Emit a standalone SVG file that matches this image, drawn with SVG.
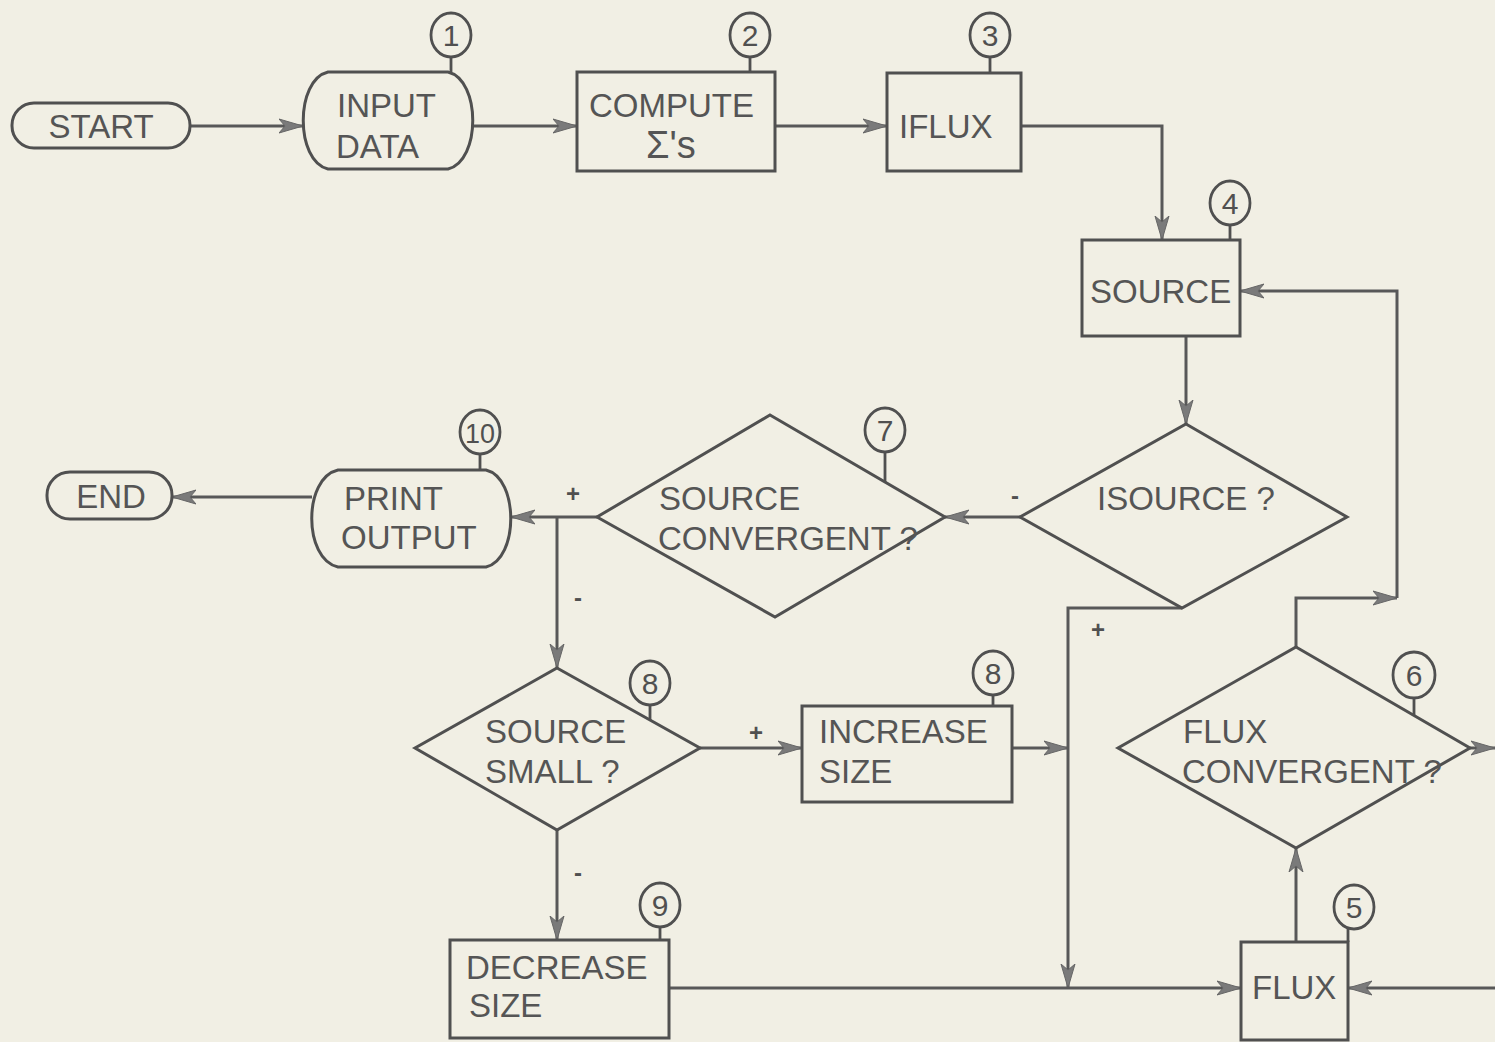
<svg xmlns="http://www.w3.org/2000/svg" width="1495" height="1042" viewBox="0 0 1495 1042">
<defs>
<style>
.shape{fill:none;stroke:#505050;stroke-width:3}
.conn{fill:none;stroke:#585858;stroke-width:3}
.t{font-family:"Liberation Sans",Arial,sans-serif;font-size:33px;fill:#555}
.n{font-family:"Liberation Sans",Arial,sans-serif;font-size:30px;fill:#505050;text-anchor:middle}
.lbl{font-family:"Liberation Sans",Arial,sans-serif;font-size:24px;font-weight:bold;fill:#505050;text-anchor:middle}
.tag{fill:none;stroke:#505050;stroke-width:2.8}
</style>
<marker id="ah" markerUnits="userSpaceOnUse" markerWidth="26" markerHeight="16" refX="24" refY="8" orient="auto">
<path d="M0,1 L24,8 L0,15 L6,8 Z" fill="#7a7a7a" stroke="#666" stroke-width="1"/>
</marker>
</defs>
<rect width="1495" height="1042" fill="#f1efe4"/>

<g id="connectors">
<path class="conn" d="M190,126 H303" marker-end="url(#ah)"/>
<path class="conn" d="M473,126 H577" marker-end="url(#ah)"/>
<path class="conn" d="M775,126 H887" marker-end="url(#ah)"/>
<path class="conn" d="M1021,126 H1162 V240" marker-end="url(#ah)"/>
<path class="conn" d="M1186,336 V424" marker-end="url(#ah)"/>
<path class="conn" d="M1020,517 H945" marker-end="url(#ah)"/>
<path class="conn" d="M597,517 H511" marker-end="url(#ah)"/>
<path class="conn" d="M312,497 H172" marker-end="url(#ah)"/>
<path class="conn" d="M557,517 V668" marker-end="url(#ah)"/>
<path class="conn" d="M700,748 H802" marker-end="url(#ah)"/>
<path class="conn" d="M1012,748 H1068" marker-end="url(#ah)"/>
<path class="conn" d="M1182,608 H1068 V988" marker-end="url(#ah)"/>
<path class="conn" d="M557,830 V940" marker-end="url(#ah)"/>
<path class="conn" d="M669,988 H1241" marker-end="url(#ah)"/>
<path class="conn" d="M1296,942 V848" marker-end="url(#ah)"/>
<path class="conn" d="M1296,647 V598 H1397" marker-end="url(#ah)"/>
<path class="conn" d="M1397,598 V291 H1240" marker-end="url(#ah)"/>
<path class="conn" d="M1470,748 H1495" marker-end="url(#ah)"/>
<path class="conn" d="M1495,988 H1348" marker-end="url(#ah)"/>
<text class="lbl" x="573" y="502">+</text>
<text class="lbl" x="1015" y="504">-</text>
<text class="lbl" x="578" y="606">-</text>
<text class="lbl" x="756" y="741">+</text>
<text class="lbl" x="1098" y="638">+</text>
<text class="lbl" x="578" y="881">-</text>
</g>

<g id="start">
<rect class="shape" x="12" y="103" width="178" height="45" rx="22"/>
<text class="t" x="101" y="138" text-anchor="middle">START</text>
</g>

<g id="input-data">
<path class="shape" d="M328,72 H448 C481,80 481,161 448,169 H328 C295,161 295,80 328,72 Z"/>
<ellipse class="tag" cx="451" cy="35" rx="20" ry="22"/>
<line class="tag" x1="451" y1="57" x2="451" y2="72"/>
<text class="n" x="451" y="46">1</text>
<text class="t" x="337" y="117">INPUT</text>
<text class="t" x="336" y="158">DATA</text>
</g>

<g id="compute">
<rect class="shape" x="577" y="72" width="198" height="99"/>
<ellipse class="tag" cx="750" cy="35" rx="20" ry="22"/>
<line class="tag" x1="750" y1="57" x2="750" y2="72"/>
<text class="n" x="750" y="46">2</text>
<text class="t" x="589" y="117">COMPUTE</text>
<text class="t" x="646" y="158" style="font-size:38px">Σ's</text>
</g>

<g id="iflux">
<rect class="shape" x="887" y="73" width="134" height="98"/>
<ellipse class="tag" cx="990" cy="35" rx="20" ry="22"/>
<line class="tag" x1="990" y1="57" x2="990" y2="73"/>
<text class="n" x="990" y="46">3</text>
<text class="t" x="899" y="138">IFLUX</text>
</g>

<g id="source">
<rect class="shape" x="1082" y="240" width="158" height="96"/>
<ellipse class="tag" cx="1230" cy="203" rx="20" ry="22"/>
<line class="tag" x1="1230" y1="225" x2="1230" y2="240"/>
<text class="n" x="1230" y="214">4</text>
<text class="t" x="1090" y="303">SOURCE</text>
</g>

<g id="isource">
<polygon class="shape" points="1186,424 1347,517 1182,608 1020,517"/>
<text class="t" x="1097" y="510">ISOURCE ?</text>
</g>

<g id="source-convergent">
<polygon class="shape" points="770,415 945,517 775,617 597,517"/>
<ellipse class="tag" cx="885" cy="430" rx="20" ry="22"/>
<line class="tag" x1="885" y1="452" x2="885" y2="482"/>
<text class="n" x="885" y="441">7</text>
<text class="t" x="659" y="510">SOURCE</text>
<text class="t" x="658" y="550">CONVERGENT ?</text>
</g>

<g id="print-output">
<path class="shape" d="M338,470 H486 C519,478 519,559 486,567 H338 C303,559 303,478 338,470 Z"/>
<ellipse class="tag" cx="480" cy="432" rx="20" ry="22"/>
<line class="tag" x1="480" y1="454" x2="480" y2="470"/>
<text class="n" x="480" y="443" style="font-size:27px" textLength="30" lengthAdjust="spacingAndGlyphs">10</text>
<text class="t" x="344" y="510">PRINT</text>
<text class="t" x="341" y="549">OUTPUT</text>
</g>

<g id="end">
<rect class="shape" x="47" y="472" width="125" height="47" rx="23"/>
<text class="t" x="111" y="508" text-anchor="middle">END</text>
</g>

<g id="source-small">
<polygon class="shape" points="557,668 700,748 557,830 415,748"/>
<ellipse class="tag" cx="650" cy="683" rx="20" ry="22"/>
<line class="tag" x1="650" y1="705" x2="650" y2="720"/>
<text class="n" x="650" y="694">8</text>
<text class="t" x="485" y="743">SOURCE</text>
<text class="t" x="485" y="783">SMALL ?</text>
</g>

<g id="increase-size">
<rect class="shape" x="802" y="706" width="210" height="96"/>
<ellipse class="tag" cx="993" cy="673" rx="20" ry="22"/>
<line class="tag" x1="993" y1="695" x2="993" y2="706"/>
<text class="n" x="993" y="684">8</text>
<text class="t" x="819" y="743">INCREASE</text>
<text class="t" x="819" y="783">SIZE</text>
</g>

<g id="decrease-size">
<rect class="shape" x="450" y="940" width="219" height="98"/>
<ellipse class="tag" cx="660" cy="905" rx="20" ry="22"/>
<line class="tag" x1="660" y1="927" x2="660" y2="940"/>
<text class="n" x="660" y="916">9</text>
<text class="t" x="466" y="979">DECREASE</text>
<text class="t" x="469" y="1017">SIZE</text>
</g>

<g id="flux">
<rect class="shape" x="1241" y="942" width="107" height="98"/>
<ellipse class="tag" cx="1354" cy="907" rx="20" ry="22"/>
<line class="tag" x1="1348" y1="929" x2="1348" y2="942"/>
<text class="n" x="1354" y="918">5</text>
<text class="t" x="1252" y="999">FLUX</text>
</g>

<g id="flux-convergent">
<polygon class="shape" points="1296,647 1470,748 1296,848 1118,748"/>
<ellipse class="tag" cx="1414" cy="675" rx="21" ry="23"/>
<line class="tag" x1="1414" y1="698" x2="1414" y2="715"/>
<text class="n" x="1414" y="686">6</text>
<text class="t" x="1183" y="743">FLUX</text>
<text class="t" x="1182" y="783">CONVERGENT ?</text>
</g>
</svg>
